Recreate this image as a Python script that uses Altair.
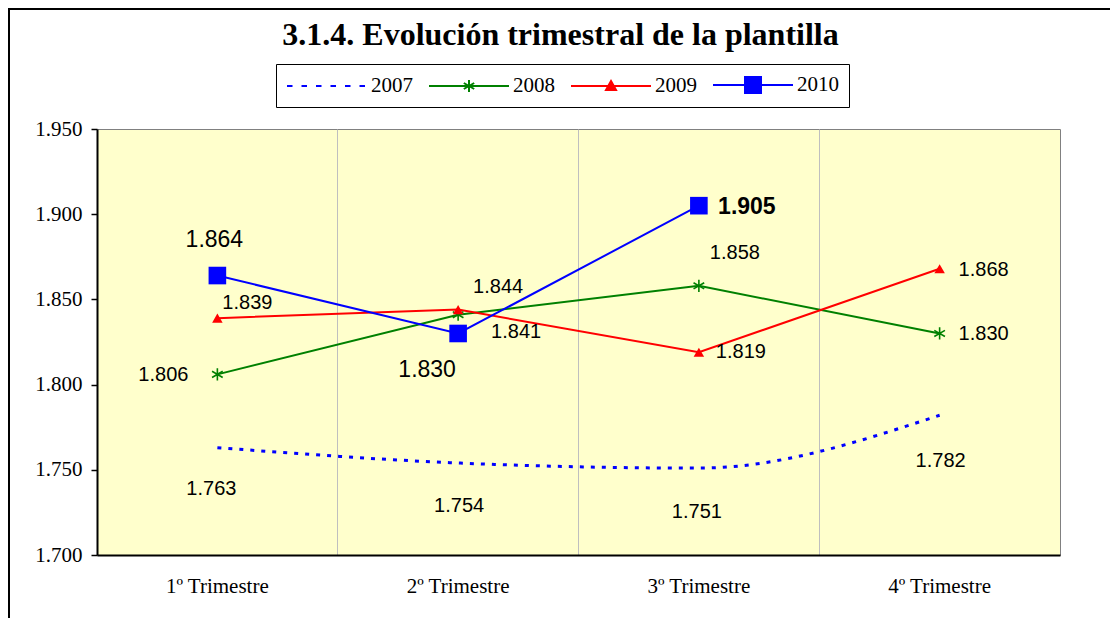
import altair as alt
import pandas as pd

# ---------------- data ----------------
quarters = ["1º Trimestre", "2º Trimestre", "3º Trimestre", "4º Trimestre"]
years = ["2007", "2008", "2009", "2010"]
v2007 = [1763, 1754, 1751, 1782]
v2008 = [1806, 1841, 1858, 1830]
v2009 = [1839, 1844, 1819, 1868]
v2010 = [1864, 1830, 1905]
y_ticks = [1700, 1750, 1800, 1850, 1900, 1950]
chart_title = "3.1.4. Evolución trimestral de la plantilla"

series = {"2007": v2007, "2008": v2008, "2009": v2009, "2010": v2010}
rows = []
for yr, vals in series.items():
    for i, v in enumerate(vals):
        rows.append({"trimestre": quarters[i], "serie": yr, "valor": v, "idx": i})
df = pd.DataFrame(rows)

# ---------------- styles ----------------
colors = ["#0000FF", "#008000", "#FF0000", "#0000FF"]
ASTERISK = "M0,-1V1M-0.87,-0.5L0.87,0.5M-0.87,0.5L0.87,-0.5"
# legend symbol paths (unit = 10px, symbol box starts at x=-1, line 80px long)
legend_paths = [
    "M-1,0H-0.45M0.45,0H1M1.9,0H2.45M3.35,0H3.9M4.8,0H5.35M6.25,0H6.8",
    "M-1,0H7M3,-0.6V0.6M2.48,-0.3L3.52,0.3M2.48,0.3L3.52,-0.3",
    "M-1,0H7M3,-0.5L3.5,0.4H2.5Z",
    "M-1,0H7M2.2,-0.8H3.8V0.8H2.2Z",
]
label_style = {
    "2007": dict(size=20, offs=[(-6, 41), (1, 43), (-2, 44), (1, 46)]),
    "2008": dict(size=20, offs=[(-54, 1), (58, 17), (36, -33), (44, 1)]),
    "2009": dict(size=20, offs=[(30, -15), (40, -23), (42, 0), (44, 1)]),
    "2010": dict(size=23, offs=[(-3, -36), (-31, 37), (48, 1)]),
}
SERIF = "Liberation Serif"
SANS = "Liberation Sans"

x_enc = alt.X(
    "trimestre:N",
    sort=quarters,
    scale=alt.Scale(type="band", domain=quarters, paddingInner=0, paddingOuter=0),
    axis=alt.Axis(
        title=None, labelAngle=0, labelFont=SERIF, labelFontSize=21, labelColor="black",
        labelPadding=20, ticks=False, domainColor="black", domainWidth=2,
        grid=True, gridColor="#BFBFBF", gridWidth=1, bandPosition=0,
    ),
)
y_enc = alt.Y(
    "valor:Q",
    scale=alt.Scale(domain=[1700, 1950], nice=False, zero=False),
    axis=alt.Axis(
        title=None, values=y_ticks, labelExpr="replace(format(datum.value, ','), ',', '.')",
        labelFont=SERIF, labelFontSize=21, labelColor="black", labelPadding=9,
        tickSize=6, tickColor="black", tickWidth=1.5, domainColor="black", domainWidth=2,
        grid=False,
    ),
)

base = alt.Chart(df).encode(x=x_enc, y=y_enc)

frame = alt.Chart(pd.DataFrame({"a": [0]})).mark_rect(
    fill="transparent", stroke="black", strokeWidth=2
).encode(x=alt.value(-88), x2=alt.value(1400), y=alt.value(-120), y2=alt.value(900))

line07 = base.transform_filter("datum.serie == '2007'").mark_line(
    interpolate="monotone", strokeDash=[4, 7], strokeWidth=3, color="#0000FF"
)
lines = base.transform_filter("datum.serie != '2007'").mark_line(strokeWidth=2).encode(
    color=alt.Color("serie:N", scale=alt.Scale(domain=years[1:], range=colors[1:]), legend=None)
)
pts08 = base.transform_filter("datum.serie == '2008'").mark_point(
    shape=ASTERISK, size=150, filled=False, color="#008000", strokeWidth=1.6, opacity=1
)
pts09 = base.transform_filter("datum.serie == '2009'").mark_point(
    shape="triangle-up", size=110, filled=True, color="#FF0000", opacity=1
)
pts10 = base.transform_filter("datum.serie == '2010'").mark_point(
    shape="square", size=310, filled=True, color="#0000FF", opacity=1
)

leg = alt.Legend(
    orient="none", legendX=179, legendY=-65, direction="horizontal", columns=4,
    title=None, symbolSize=400, symbolStrokeWidth=2, symbolOpacity=1,
    labelFont=SERIF, labelFontSize=21, labelColor="black", labelOffset=63,
    columnPadding=12, padding=10, strokeColor="black", fillColor="white",
)
legend_layer = base.mark_point(filled=True, size=0, strokeWidth=0).encode(
    shape=alt.Shape("serie:N", scale=alt.Scale(domain=years, range=legend_paths), legend=leg),
    fill=alt.Fill("serie:N", scale=alt.Scale(domain=years, range=colors), legend=leg),
    stroke=alt.Stroke("serie:N", scale=alt.Scale(domain=years, range=colors), legend=leg),
)

label_layers = []
for yr, st in label_style.items():
    for i, (dx, dy) in enumerate(st["offs"]):
        label_layers.append(
            base.transform_filter(f"datum.serie == '{yr}' && datum.idx == {i}")
            .transform_calculate(lbl="replace(format(datum.valor, ','), ',', '.')")
            .mark_text(
                font=SANS, fontSize=st["size"],
                fontWeight="bold" if (yr == "2010" and i == 2) else "normal",
                color="black", dx=dx, dy=dy, align="center", baseline="middle",
            )
            .encode(text="lbl:N")
        )

chart = alt.layer(
    frame, line07, lines, pts08, pts09, pts10, legend_layer, *label_layers
).properties(
    width=963, height=426,
    padding={"left": 89, "top": 121, "right": 50, "bottom": 63},
    autosize=alt.AutoSizeParams(type="none"),
    background="white",
    title=alt.TitleParams(
        text=chart_title, font=SERIF, fontSize=32, fontWeight="bold", color="black",
        anchor="middle", offset=-42, dx=-18, dy=27, baseline="alphabetic",
    ),
).configure_view(fill="#FFFFCC", stroke="#808080", strokeWidth=1)

chart.save("out.html", embed_options={"renderer": "svg", "actions": False})
